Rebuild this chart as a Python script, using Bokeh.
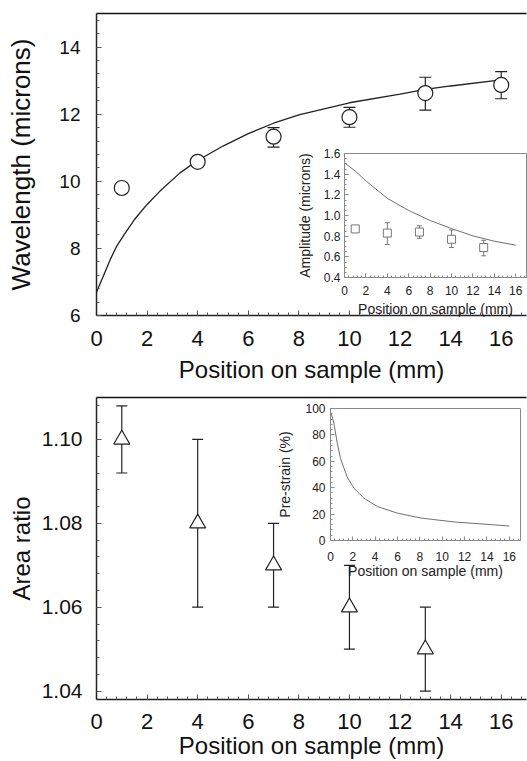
from bokeh.plotting import figure
from bokeh.layouts import column
from bokeh.models import (Range1d, SingleIntervalTicker, FixedTicker, LinearAxis, Whisker, TeeHead,
                          ColumnDataSource, InlineStyleSheet, PrintfTickFormatter)
from bokeh.embed import file_html
from bokeh.resources import INLINE

FONT = "Liberation Sans"

# ---------------- data ----------------
# top panel: wavelength vs position
wl_pos = [1, 4, 7, 10, 13, 16]
wavelength = [9.8, 10.58, 11.33, 11.91, 12.63, 12.87]
wl_lower = [9.8, 10.5, 11.02, 11.61, 12.12, 12.46]
wl_upper = [9.8, 10.7, 11.6, 12.2, 13.1, 13.27]
wl_fit_x = [0, 0.3, 0.55, 0.8, 1.1, 1.5, 2, 2.5, 3.3, 4, 5, 6, 7, 8, 10, 12, 13, 14, 16]
wl_fit_y = [6.69, 7.23, 7.68, 8.07, 8.42, 8.86, 9.31, 9.70, 10.25, 10.62, 11.05,
            11.42, 11.73, 11.98, 12.34, 12.6, 12.74, 12.84, 13.02]

# top inset: amplitude
amp_pos = [1, 4, 7, 10, 13]
amplitude = [0.87, 0.83, 0.84, 0.77, 0.69]
amp_lower = [0.87, 0.72, 0.78, 0.69, 0.61]
amp_upper = [0.87, 0.93, 0.90, 0.86, 0.76]
amp_fit_x = [0, 1, 2, 4, 6, 8, 10, 12, 14, 16]
amp_fit_y = [1.51, 1.43, 1.335, 1.166, 1.048, 0.952, 0.873, 0.803, 0.751, 0.713]

# bottom panel: area ratio
area_pos = [1, 4, 7, 10, 13]
area_ratio = [1.10, 1.08, 1.07, 1.06, 1.05]
area_lower = [1.092, 1.06, 1.06, 1.05, 1.04]
area_upper = [1.108, 1.10, 1.08, 1.07, 1.06]

# bottom inset: pre-strain
ps_x = [0.05, 0.3, 0.6, 0.9, 1.5, 2.1, 3.0, 4.2, 6.0, 8.1, 11.1, 14.1, 16]
ps_y = [97, 89, 74, 62, 48, 39.5, 32, 25.7, 20.7, 17, 14, 12.2, 11]

X_LABEL = "Position on sample (mm)"


def top_line(p, color, width):
    ax = LinearAxis(ticker=FixedTicker(ticks=[]), axis_line_color=color, axis_line_width=width,
                    major_tick_line_color=None, minor_tick_line_color=None,
                    major_tick_out=0, major_tick_in=0, major_label_standoff=0,
                    major_label_text_font_size="0px")
    p.add_layout(ax, "above")


def style_main(p, ylabel, yticker, yfmt=None, ylabel_size="24px", ytick_size="21px"):
    p.grid.visible = False
    p.outline_line_color = None
    xa = p.below[0]
    ya = p.left[0]
    for ax in (xa, ya):
        ax.axis_line_color = "#222222"
        ax.axis_line_width = 1.5
        ax.major_tick_in = 5
        ax.major_tick_out = 0
        ax.minor_tick_in = 3
        ax.minor_tick_out = 0
        ax.major_tick_line_color = "#555555"
        ax.minor_tick_line_color = "#555555"
        ax.major_label_text_font = FONT
        ax.major_label_text_color = "#111111"
        ax.axis_label_text_font = FONT
        ax.axis_label_text_font_style = "normal"
        ax.axis_label_text_color = "#111111"
    xa.ticker = SingleIntervalTicker(interval=2, num_minor_ticks=5)
    xa.axis_label = X_LABEL
    xa.axis_label_text_font_size = "24px"
    xa.major_label_text_font_size = "22px"
    ya.ticker = yticker
    ya.axis_label = ylabel
    ya.axis_label_text_font_size = ylabel_size
    ya.major_label_text_font_size = ytick_size
    if yfmt is not None:
        ya.formatter = yfmt
    top_line(p, "#111111", 1.3)
    return xa, ya


def style_inset(p, ylabel, yticker, yfmt=None):
    p.grid.visible = False
    p.outline_line_color = "#8a8a8a"
    p.outline_line_width = 1
    xa = p.below[0]
    ya = p.left[0]
    for ax in (xa, ya):
        ax.axis_line_color = "#8a8a8a"
        ax.axis_line_width = 1
        ax.major_tick_in = 4
        ax.major_tick_out = 0
        ax.minor_tick_in = 2
        ax.minor_tick_out = 0
        ax.major_tick_line_color = "#8a8a8a"
        ax.minor_tick_line_color = "#8a8a8a"
        ax.major_label_text_font = FONT
        ax.major_label_text_font_size = "12px"
        ax.major_label_text_color = "#222222"
        ax.axis_label_text_font = FONT
        ax.axis_label_text_font_style = "normal"
        ax.axis_label_text_font_size = "14px"
        ax.axis_label_text_color = "#222222"
    xa.ticker = SingleIntervalTicker(interval=2, num_minor_ticks=5)
    xa.axis_label = X_LABEL
    ya.ticker = yticker
    ya.axis_label = ylabel
    if yfmt is not None:
        ya.formatter = yfmt
    return xa, ya


def whiskers(p, src, color, head, width):
    w = Whisker(source=src, base="x", upper="upper", lower="lower",
                line_color=color, line_width=width,
                upper_head=TeeHead(size=head, line_color=color, line_width=width),
                lower_head=TeeHead(size=head, line_color=color, line_width=width))
    p.add_layout(w)


def place(p, left, top):
    p.stylesheets = [InlineStyleSheet(
        css=":host { position: absolute !important; left: %dpx !important; top: %dpx !important; }" % (left, top))]


# ---------------- top main ----------------
p1 = figure(width=527, height=385, x_range=Range1d(0, 17), y_range=Range1d(6, 15),
            output_backend="svg", toolbar_location=None,
            min_border_left=96, min_border_right=1, min_border_top=13, min_border_bottom=69)
x1, y1 = style_main(p1, "Wavelength (microns)", SingleIntervalTicker(interval=2, num_minor_ticks=5),
                    ylabel_size="26px", ytick_size="19px")
y1.major_label_standoff = 16
y1.axis_label_standoff = 20
x1.major_label_standoff = 15
x1.axis_label_standoff = 7

wl_src = ColumnDataSource(dict(x=wl_pos, y=wavelength, lower=wl_lower, upper=wl_upper))
whiskers(p1, wl_src, "#222222", 12, 1.2)
p1.line(wl_fit_x, wl_fit_y, line_color="#222222", line_width=1.3)
p1.scatter("x", "y", source=wl_src, marker="circle", size=15, fill_color="white",
           line_color="#222222", line_width=1.2)

# ---------------- top inset ----------------
p1i = figure(width=279, height=174, x_range=Range1d(0, 17), y_range=Range1d(0.4, 1.6),
             output_backend="svg", toolbar_location=None,
             min_border_left=96, min_border_right=1, min_border_top=8, min_border_bottom=40,
             border_fill_alpha=0, background_fill_color="white")
x1i, y1i = style_inset(p1i, "Amplitude (microns)", SingleIntervalTicker(interval=0.2, num_minor_ticks=4),
                       PrintfTickFormatter(format="%.1f"))
y1i.major_label_standoff = 4
y1i.axis_label_standoff = 8
x1i.major_label_standoff = 8
x1i.axis_label_standoff = 3
amp_src = ColumnDataSource(dict(x=amp_pos, y=amplitude, lower=amp_lower, upper=amp_upper))
whiskers(p1i, amp_src, "#777777", 5, 1)
p1i.line(amp_fit_x, amp_fit_y, line_color="#707070", line_width=1)
p1i.scatter("x", "y", source=amp_src, marker="square", size=8, fill_color="white",
            line_color="#777777", line_width=1)
place(p1i, 248, 145)

# ---------------- bottom main ----------------
p2 = figure(width=527, height=376, x_range=Range1d(0, 17), y_range=Range1d(1.038, 1.110),
            output_backend="svg", toolbar_location=None,
            min_border_left=96, min_border_right=1, min_border_top=12, min_border_bottom=60)
x2, y2 = style_main(p2, "Area ratio", SingleIntervalTicker(interval=0.02, num_minor_ticks=5),
                    PrintfTickFormatter(format="%.2f"), ylabel_size="24px", ytick_size="21px")
y2.major_label_standoff = 14
y2.axis_label_standoff = 4
x2.major_label_standoff = 14
x2.axis_label_standoff = 0

area_src = ColumnDataSource(dict(x=area_pos, y=area_ratio, lower=area_lower, upper=area_upper))
whiskers(p2, area_src, "#222222", 11, 1.2)
p2.scatter("x", "y", source=area_src, marker="triangle", size=16, fill_color="white",
           line_color="#222222", line_width=1.2)

# ---------------- bottom inset ----------------
p2i = figure(width=287, height=181, x_range=Range1d(0, 17), y_range=Range1d(0, 100),
             output_backend="svg", toolbar_location=None,
             min_border_left=96, min_border_right=1, min_border_top=8, min_border_bottom=40,
             border_fill_alpha=0, background_fill_color="white")
x2i, y2i = style_inset(p2i, "Pre-strain (%)", SingleIntervalTicker(interval=20, num_minor_ticks=5))
y2i.major_label_standoff = 5
y2i.axis_label_standoff = 9
x2i.major_label_standoff = 11
x2i.axis_label_standoff = -1
p2i.line(ps_x, ps_y, line_color="#707070", line_width=1)
place(p2i, 234, 400)

layout = column(p1, p2, p1i, p2i, spacing=0)
layout.stylesheets = [InlineStyleSheet(css=":host { position: relative; }")]

open("out.html", "w").write(file_html(layout, INLINE))
